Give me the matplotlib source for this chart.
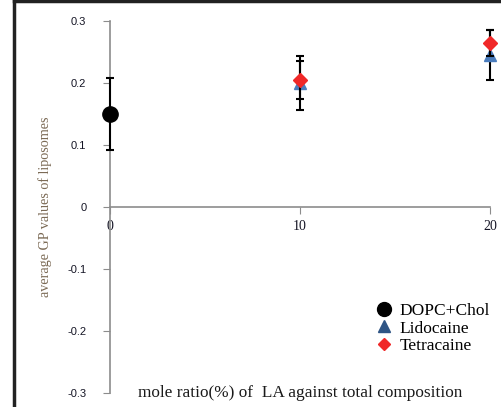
import numpy as np
import matplotlib
matplotlib.use('Agg')
import matplotlib.pyplot as plt
from matplotlib.lines import Line2D

# Data
chol_x = [0]
chol_y = [0.150]
chol_err = [0.058]

lido_x = [10, 20]
lido_y = [0.200, 0.245]
lido_err = [0.044, 0.040]

tetra_x = [10, 20]
tetra_y = [0.205, 0.265]
tetra_err = [0.031, 0.021]

x_ticks = [0, 10, 20]
y_ticks = [-0.3, -0.2, -0.1, 0, 0.1, 0.2, 0.3]
y_tick_labels = ['-0.3', '-0.2', '-0.1', '0', '0.1', '0.2', '0.3']

plt.rcParams['font.family'] = ['Liberation Serif', 'DejaVu Serif']

fig = plt.figure(figsize=(5.01, 4.07), dpi=100)
ax = fig.add_axes([0.2196, 0.0344, 0.7585, 0.9140])

lido = ax.errorbar(lido_x, lido_y, yerr=lido_err, fmt='^', color='#4a7cbd', ms=9,
                   ecolor='black', elinewidth=1.5, capsize=3, capthick=1.5,
                   clip_on=False, zorder=3)
tetra = ax.errorbar(tetra_x, tetra_y, yerr=tetra_err, fmt='D', color='#f02828', ms=7.5,
                    ecolor='black', elinewidth=1.5, capsize=3, capthick=1.5,
                    clip_on=False, zorder=4)
chol = ax.errorbar(chol_x, chol_y, yerr=chol_err, fmt='o', color='black', ms=11,
                   ecolor='black', elinewidth=1.5, capsize=3, capthick=1.5,
                   clip_on=False, zorder=5)

ax.set_xlim(0, 20)
ax.set_ylim(-0.3, 0.3)

# axis lines like the original: y axis at left, x axis through zero
ax.spines['top'].set_visible(False)
ax.spines['right'].set_visible(False)
ax.spines['bottom'].set_position(('data', 0))
ax.spines['left'].set_color('#8c8c8c')
ax.spines['bottom'].set_color('#8c8c8c')
ax.spines['left'].set_linewidth(1.2)
ax.spines['bottom'].set_linewidth(1.2)

ax.set_xticks(x_ticks)
ax.set_yticks(y_ticks)
ax.set_yticklabels(y_tick_labels, family='Liberation Sans', fontsize=8)
ax.tick_params(axis='y', direction='out', length=5, color='#8c8c8c', pad=12,
               labelcolor='#151525')
ax.tick_params(axis='x', direction='out', length=5, color='#8c8c8c', pad=4,
               labelsize=10, labelcolor='#151525')

ax.set_ylabel('average GP values of liposomes', fontsize=10.2, color='#7b6a55',
              labelpad=11)

ax.text(10, -0.3, 'mole ratio(%) of  LA against total composition',
        ha='center', va='center', fontsize=12.4, color='#1a1a1a')

# legend shows only the markers
leg = ax.legend([chol[0], lido[0], tetra[0]], ['DOPC+Chol', 'Lidocaine', 'Tetracaine'],
                loc='upper left', bbox_to_anchor=(0.68, 0.262),
                frameon=False, fontsize=12.5, handlelength=1.0,
                handletextpad=0.4, labelspacing=0.1, borderaxespad=0)
leg.legend_handles[0].set_markersize(10)
leg.legend_handles[1].set_markersize(8)
leg.legend_handles[1].set_color('#2f5585')
leg.legend_handles[2].set_markersize(6.5)

# black frame of the original figure (left and top edges visible)
fig.add_artist(Line2D([0.028, 0.028], [0, 1], color='#222222', lw=2.5,
                      transform=fig.transFigure))
fig.add_artist(Line2D([0.028, 1], [0.997, 0.997], color='#222222', lw=2.5,
                      transform=fig.transFigure))

fig.savefig('out.png', dpi=100)
